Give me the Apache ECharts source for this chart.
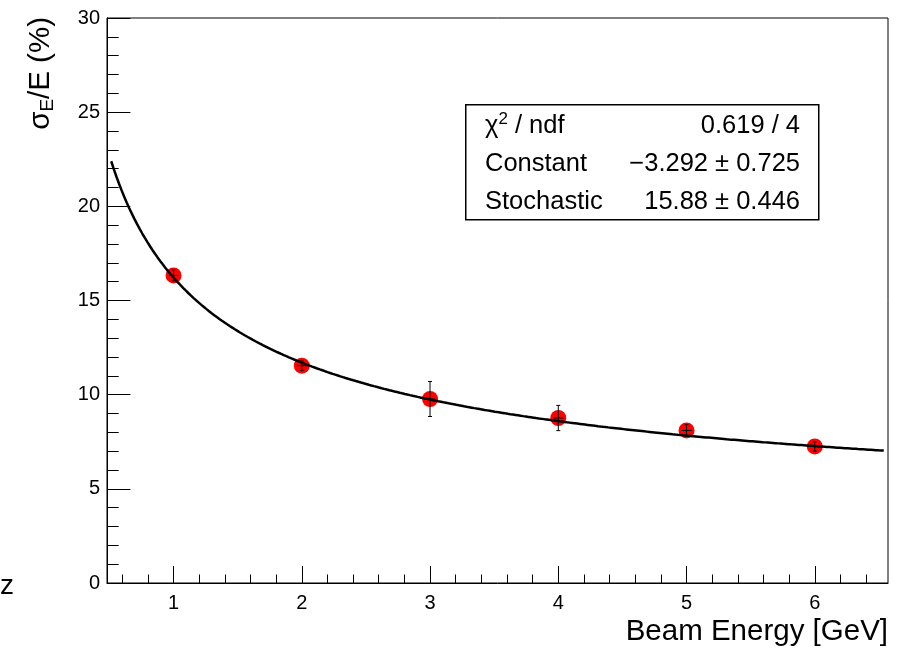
<!DOCTYPE html>
<html>
<head>
<meta charset="utf-8">
<script src="https://cdn.jsdelivr.net/npm/echarts@6/dist/echarts.min.js"></script>
<style>
  html, body { margin: 0; padding: 0; background: #fff; }
  #chart { width: 904px; height: 648px; }
</style>
</head>
<body>
<div id="chart"></div>
<script>
// Measured energy resolution versus beam energy
const energies = [1, 2, 3, 4, 5, 6];                         // GeV
const resolution = [16.33, 11.54, 9.77, 8.76, 8.10, 7.25];   // sigma_E / E in %
const resolutionErr = [0.30, 0.25, 0.93, 0.67, 0.30, 0.25];
const energyErr = [0.04, 0.04, 0.04, 0.04, 0.04, 0.04];

// Axis ranges and tick values
const xRange = [0.481, 6.571];
const yRange = [0, 30];
const xMajorTicks = [1, 2, 3, 4, 5, 6];
const xMinorTicks = [0.6, 0.8, 1.2, 1.4, 1.6, 1.8, 2.2, 2.4, 2.6, 2.8, 3.2, 3.4, 3.6, 3.8,
                     4.2, 4.4, 4.6, 4.8, 5.2, 5.4, 5.6, 5.8, 6.2, 6.4];

// Fit result: sigma/E = sqrt(Stochastic^2 / E + Constant^2)
const fitConstant = -3.292;
const fitStochastic = 15.88;
const fitRange = [0.514, 6.538];
const statNames = ['{m|χ}{sup|2}{m| / ndf}', '{m|Constant}', '{m|Stochastic}'];
const statValues = ['0.619 / 4', '\u22123.292 \u00b1 0.725', '15.88 \u00b1 0.446'];

const FONT = 'Liberation Sans, Arial, Helvetica, sans-serif';

function fitFunction(e) {
  return Math.sqrt(fitStochastic * fitStochastic / e + fitConstant * fitConstant);
}
const fitCurve = [];
const nSamples = 300;
for (let i = 0; i <= nSamples; i++) {
  const e = fitRange[0] + (fitRange[1] - fitRange[0]) * i / nSamples;
  fitCurve.push([e, fitFunction(e)]);
}

const points = energies.map((e, i) => [e, resolution[i]]);
const errorData = energies.map((e, i) => [e, resolution[i], energyErr[i], resolutionErr[i]]);

const grid = { left: 107, top: 18, width: 781, height: 565 };

const chart = echarts.init(document.getElementById('chart'), null, { renderer: 'canvas' });

const axisLineStyle = { color: '#000', width: 1 };

// Fit statistics box
const statsGraphics = [];
const rowY = [126, 164, 202];
statsGraphics.push({
  type: 'rect', left: 465, top: 104, z: 10,
  shape: { width: 353, height: 115 },
  style: { fill: '#fff', stroke: '#000', lineWidth: 1.5 }
});
statNames.forEach((name, i) => {
  statsGraphics.push({
    type: 'text', x: 485, y: rowY[i], z: 11,
    style: {
      text: name, fill: '#000', textAlign: 'left', textVerticalAlign: 'middle',
      rich: {
        m: { fontSize: 25.5, fontFamily: FONT, fill: '#000', lineHeight: 30, verticalAlign: 'middle' },
        sup: { fontSize: 17, fontFamily: FONT, fill: '#000', lineHeight: 28, verticalAlign: 'top' }
      }
    }
  });
  statsGraphics.push({
    type: 'text', x: 800, y: rowY[i], z: 11,
    style: { text: statValues[i], font: '25.5px ' + FONT, fill: '#000', textAlign: 'right', textVerticalAlign: 'middle' }
  });
});

chart.setOption({
  animation: false,
  backgroundColor: '#fff',
  grid: Object.assign({ show: true, borderColor: '#000', borderWidth: 1, outerBoundsMode: 'none' }, grid),
  xAxis: [
    {
      type: 'value', min: xRange[0], max: xRange[1], position: 'bottom',
      axisLine: { show: true, lineStyle: axisLineStyle },
      axisTick: { show: true, inside: true, length: 17, customValues: xMajorTicks, lineStyle: axisLineStyle },
      axisLabel: { show: true, customValues: xMajorTicks, fontSize: 20, fontFamily: FONT, color: '#000', margin: 10 },
      splitLine: { show: false }
    },
    {
      type: 'value', min: xRange[0], max: xRange[1], position: 'bottom',
      axisLine: { show: false },
      axisTick: { show: true, inside: true, length: 8.5, customValues: xMinorTicks, lineStyle: axisLineStyle },
      axisLabel: { show: false },
      splitLine: { show: false }
    }
  ],
  yAxis: {
    type: 'value', min: yRange[0], max: yRange[1], interval: 5,
    axisLine: { show: true, lineStyle: axisLineStyle },
    axisTick: { show: true, inside: true, length: 23.4, lineStyle: axisLineStyle },
    minorTick: { show: true, splitNumber: 5, length: 11.7, lineStyle: axisLineStyle },
    axisLabel: { fontSize: 20, fontFamily: FONT, color: '#000', margin: 7 },
    splitLine: { show: false }
  },
  series: [
    {
      type: 'scatter', data: points, symbol: 'circle', symbolSize: 16, z: 2,
      itemStyle: { color: '#ff0000', opacity: 1 }
    },
    {
      type: 'custom', data: errorData, z: 3,
      renderItem: function (params, api) {
        const x = api.value(0), y = api.value(1), ex = api.value(2), ey = api.value(3);
        const top = api.coord([x, y + ey]), bot = api.coord([x, y - ey]);
        const left = api.coord([x - ex, y]), right = api.coord([x + ex, y]);
        const cap = 2;
        const style = { stroke: '#000', lineWidth: 1 };
        return {
          type: 'group',
          children: [
            { type: 'line', shape: { x1: top[0], y1: top[1], x2: bot[0], y2: bot[1] }, style: style },
            { type: 'line', shape: { x1: left[0], y1: left[1], x2: right[0], y2: right[1] }, style: style },
            { type: 'line', shape: { x1: top[0] - cap, y1: top[1], x2: top[0] + cap, y2: top[1] }, style: style },
            { type: 'line', shape: { x1: bot[0] - cap, y1: bot[1], x2: bot[0] + cap, y2: bot[1] }, style: style }
          ]
        };
      }
    },
    {
      type: 'line', data: fitCurve, showSymbol: false, symbol: 'none', z: 4,
      lineStyle: { color: '#000', width: 2.5 }
    }
  ],
  graphic: [
    {
      type: 'text', x: 41, y: 17, rotation: Math.PI / 2, z: 10,
      style: {
        text: '{m|σ}{s|E}{m|/E (%)}',
        textAlign: 'right', textVerticalAlign: 'middle', fill: '#000',
        rich: {
          m: { fontSize: 29.5, fontFamily: FONT, fill: '#000', lineHeight: 32, verticalAlign: 'middle' },
          s: { fontSize: 19, fontFamily: FONT, fill: '#000', lineHeight: 32, verticalAlign: 'bottom', padding: [11, 0, 0, 0] }
        }
      }
    },
    {
      type: 'text', x: 888, y: 632, z: 10,
      style: { text: 'Beam Energy [GeV]', font: '29.5px ' + FONT, fill: '#000', textAlign: 'right', textVerticalAlign: 'middle' }
    },
    {
      type: 'text', x: 0, y: 586, z: 10,
      style: { text: 'z', font: '28px ' + FONT, fill: '#000', textAlign: 'left', textVerticalAlign: 'middle' }
    }
  ].concat(statsGraphics)
});
</script>
</body>
</html>
